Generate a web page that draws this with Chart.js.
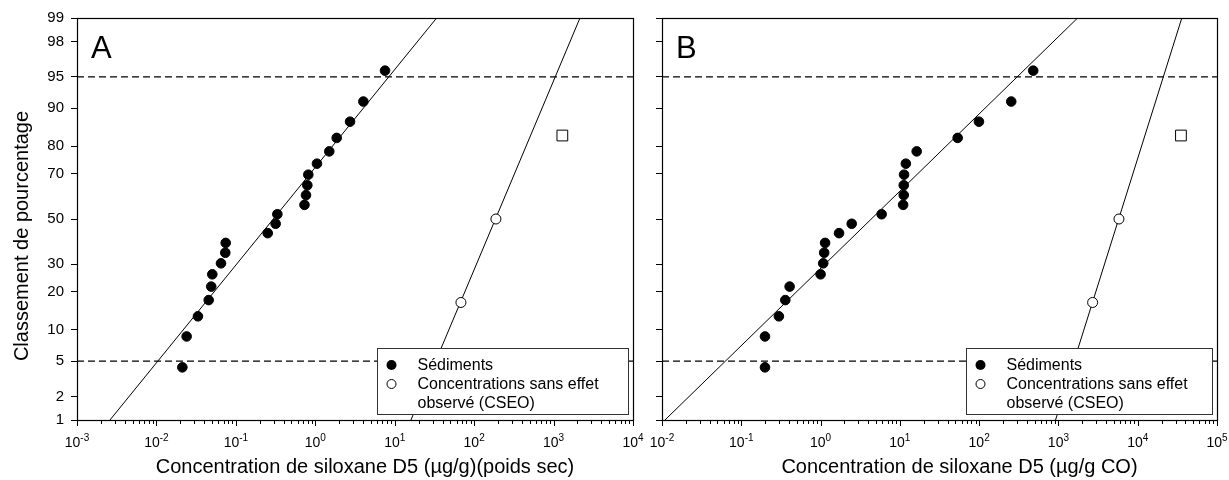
<!DOCTYPE html>
<html>
<head>
<meta charset="utf-8">
<script src="https://cdn.jsdelivr.net/npm/chart.js@4.4.1/dist/chart.umd.min.js"></script>
<style>
  html, body { margin: 0; padding: 0; background: #fff; }
  #wrap { position: relative; width: 1229px; height: 480px; overflow: hidden; }
  #wrap canvas { position: absolute; top: 0; }
</style>
</head>
<body>
<div id="wrap">
  <canvas id="chartA" width="650" height="480" style="left:0"></canvas>
  <canvas id="chartB" width="584" height="480" style="left:645px"></canvas>
</div>
<script>
/* ---------- data ---------- */
const yTickPct = [1, 2, 5, 10, 20, 30, 50, 70, 80, 90, 95, 98, 99];
const refPct   = [5, 95];                 // dashed reference lines

// rank (%) of the 22 sediment samples
const sedPct = [4.3, 8.7, 13.0, 17.4, 21.7, 26.1, 30.4, 34.8, 39.1, 43.5, 47.8,
                52.2, 56.5, 60.9, 65.2, 69.6, 73.9, 78.3, 82.6, 87.0, 91.3, 95.7];
// panel A : µg/g dry weight
const sedA = [0.0212, 0.024, 0.0333, 0.0455, 0.049, 0.0505, 0.065, 0.0736, 0.0745, 0.252, 0.317,
              0.333, 0.731, 0.764, 0.794, 0.817, 1.05, 1.50, 1.86, 2.74, 4.03, 7.55];
// panel B : µg/g OC
const sedB = [0.199, 0.199, 0.298, 0.359, 0.407, 1.00, 1.08, 1.11, 1.14, 1.71, 2.47,
              5.89, 11.0, 11.2, 11.2, 11.3, 11.9, 16.3, 53.6, 99.4, 254, 481];

// NOEC (CSEO) values
const cseoPct = [16.7, 50];
const cseoA   = [68.2, 188];
const cseoB   = [2700, 5800];
const squarePct = [83.3];
const squareA   = [1290];
const squareB   = [35100];

// fitted lines, given at the 1 % and 99 % ranks
const fitPct   = [1, 99];
const sedFitA  = [0.0026, 33.7];
const cseoFitA = [16.0, 2150];
const sedFitB  = [0.0109, 1746];
const cseoFitB = [920, 36000];

const FONT = '"Liberation Sans", Arial, Helvetica, sans-serif';

/* ---------- normal probability scale ---------- */
// inverse normal CDF (Acklam)
function probit(p) {
  const a = [-3.969683028665376e+01, 2.209460984245205e+02, -2.759285104469687e+02, 1.383577518672690e+02, -3.066479806614716e+01, 2.506628277459239e+00];
  const b = [-5.447609879822406e+01, 1.615858368580409e+02, -1.556989798598866e+02, 6.680131188771972e+01, -1.328068155288572e+01];
  const c = [-7.784894002430293e-03, -3.223964580411365e-01, -2.400758277161838e+00, -2.549732539343734e+00, 4.374664141464968e+00, 2.938163982698783e+00];
  const d = [7.784695709041462e-03, 3.224671290700398e-01, 2.445134137142996e+00, 3.754408661907416e+00];
  const pl = 0.02425;
  let q, r;
  if (p < pl) {
    q = Math.sqrt(-2 * Math.log(p));
    return (((((c[0]*q+c[1])*q+c[2])*q+c[3])*q+c[4])*q+c[5]) / ((((d[0]*q+d[1])*q+d[2])*q+d[3])*q+1);
  }
  if (p > 1 - pl) {
    q = Math.sqrt(-2 * Math.log(1 - p));
    return -(((((c[0]*q+c[1])*q+c[2])*q+c[3])*q+c[4])*q+c[5]) / ((((d[0]*q+d[1])*q+d[2])*q+d[3])*q+1);
  }
  q = p - 0.5; r = q * q;
  return (((((a[0]*r+a[1])*r+a[2])*r+a[3])*r+a[4])*r+a[5])*q / (((((b[0]*r+b[1])*r+b[2])*r+b[3])*r+b[4])*r+1);
}

const pts = (xs, pcts) => xs.map((x, i) => ({ x, y: probit(pcts[i] / 100) }));

/* ---------- custom decoration: frame, log ticks, titles, legend ---------- */
function decoPlugin(cfg) {
  return {
    id: 'deco',
    afterDraw(chart) {
      const { ctx, chartArea: a, scales: { x } } = chart;
      ctx.save();
      ctx.strokeStyle = '#000';
      ctx.fillStyle = '#000';

      // legend box (white, covers lines)
      const L = a.right - 5 - cfg.legendW, T = a.bottom - 72, W = cfg.legendW, H = 66;
      ctx.fillStyle = '#fff';
      ctx.fillRect(L, T, W, H);
      ctx.lineWidth = 1;
      ctx.strokeStyle = '#333';
      ctx.strokeRect(L + 0.5, T + 0.5, W, H);
      ctx.strokeStyle = '#000';
      ctx.lineWidth = 1;
      ctx.beginPath(); ctx.arc(L + 14.5, T + 17, 5, 0, Math.PI * 2);
      ctx.fillStyle = '#000'; ctx.fill();
      ctx.beginPath(); ctx.arc(L + 14.5, T + 36, 4.5, 0, Math.PI * 2);
      ctx.fillStyle = '#fff'; ctx.fill(); ctx.stroke();
      ctx.fillStyle = '#000';
      ctx.font = '16px ' + FONT;
      ctx.textAlign = 'left';
      ctx.textBaseline = 'middle';
      ctx.fillText('Sédiments', L + 40.5, T + 18);
      ctx.fillText('Concentrations sans effet', L + 40.5, T + 37);
      ctx.fillText('observé (CSEO)', L + 40.5, T + 56);

      // frame
      ctx.lineWidth = 1.2;
      ctx.strokeRect(a.left + 0.5, a.top + 0.5, a.right - a.left, a.bottom - a.top);

      // log ticks + 10^n labels
      const e0 = Math.round(Math.log10(x.min)), e1 = Math.round(Math.log10(x.max));
      ctx.lineWidth = 1;
      for (let e = e0; e <= e1; e++) {
        for (let m = 1; m <= 9; m++) {
          const v = m * Math.pow(10, e);
          if (v > x.max * 1.0001) break;
          const px = Math.round(x.getPixelForValue(v)) + 0.5;
          const len = m === 1 ? 6 : 4;
          ctx.beginPath(); ctx.moveTo(px, a.bottom); ctx.lineTo(px, a.bottom + len); ctx.stroke();
        }
        const cx = x.getPixelForValue(Math.pow(10, e));
        ctx.textBaseline = 'alphabetic';
        ctx.font = '14px ' + FONT; const wb = ctx.measureText('10').width;
        ctx.font = '10px ' + FONT; const we = ctx.measureText(String(e)).width;
        const left = cx - (wb + we) / 2;
        ctx.font = '14px ' + FONT; ctx.fillText('10', left, a.bottom + 27);
        ctx.font = '10px ' + FONT; ctx.fillText(String(e), left + wb, a.bottom + 21);
      }

      // x title
      ctx.font = '20px ' + FONT;
      ctx.textAlign = 'center';
      ctx.fillText(cfg.xTitle, (a.left + a.right) / 2 + cfg.xTitleShift, a.bottom + 53);

      // y title
      if (cfg.yTitle) {
        ctx.save();
        ctx.translate(28, (a.top + a.bottom) / 2 + 17);
        ctx.rotate(-Math.PI / 2);
        ctx.fillText(cfg.yTitle, 0, 0);
        ctx.restore();
      }

      // panel letter
      ctx.font = '31px ' + FONT;
      ctx.textAlign = 'left';
      ctx.fillText(cfg.letter, a.left + 14, a.top + 40);
      ctx.restore();
    }
  };
}

function makePanel(id, cfg) {
  const zMin = probit(0.01), zMax = probit(0.99);
  const refLine = p => [{ x: cfg.xMin, y: probit(p / 100) }, { x: cfg.xMax, y: probit(p / 100) }];
  const lineDs = (data, dash, w) => ({
    data, showLine: true, borderColor: '#000', borderWidth: w || 1, pointRadius: 0,
    borderDash: dash || [], fill: false
  });

  return new Chart(document.getElementById(id), {
    type: 'scatter',
    data: {
      datasets: [
        { label: 'Sédiments', data: pts(cfg.sed, sedPct), pointRadius: 4.8,
          backgroundColor: '#000', borderColor: '#000', pointBorderWidth: 1 },
        { label: 'Concentrations sans effet observé (CSEO)', data: pts(cfg.cseo, cseoPct), pointRadius: 5,
          backgroundColor: '#fff', borderColor: '#000', pointBorderWidth: 1 },
        { label: 'CSEO', data: pts(cfg.square, squarePct), pointStyle: 'rect', pointRadius: 7.6,
          backgroundColor: '#fff', borderColor: '#000', pointBorderWidth: 1 },
        lineDs(pts(cfg.sedFit, fitPct)),
        lineDs(pts(cfg.cseoFit, fitPct)),
        lineDs(refLine(refPct[0]), [7, 4], 1.3),
        lineDs(refLine(refPct[1]), [7, 4], 1.3),
      ]
    },
    options: {
      responsive: false,
      animation: false,
      devicePixelRatio: 1,
      events: [],
      layout: { padding: cfg.padding },
      plugins: { legend: { display: false }, tooltip: { enabled: false } },
      scales: {
        x: {
          type: 'logarithmic', min: cfg.xMin, max: cfg.xMax,
          afterFit: ax => { ax.height = 60; },
          grid: { display: false }, border: { display: false }, ticks: { display: false }
        },
        y: {
          type: 'linear', min: zMin, max: zMax,
          afterBuildTicks: ax => { ax.ticks = yTickPct.map(p => ({ value: probit(p / 100) })); },
          afterFit: ax => { ax.width = cfg.yWidth; },
          grid: { drawOnChartArea: false, drawTicks: true, tickLength: 6, color: '#000', tickColor: '#000', lineWidth: 1 },
          border: { display: false },
          ticks: {
            autoSkip: false, padding: 7, color: '#000',
            font: { family: FONT, size: 15 },
            callback: (v, i) => cfg.yLabels ? String(yTickPct[i]) : ''
          }
        }
      }
    },
    plugins: [decoPlugin(cfg)]
  });
}

makePanel('chartA', {
  xMin: 1e-3, xMax: 1e4, sed: sedA, cseo: cseoA, square: squareA,
  sedFit: sedFitA, cseoFit: cseoFitA, letter: 'A',
  xTitle: 'Concentration de siloxane D5 (µg/g)(poids sec)', xTitleShift: 10,
  yTitle: 'Classement de pourcentage', yLabels: true, yWidth: 77,
  padding: { left: 0, top: 18, right: 17, bottom: 0 }, legendW: 251
});

makePanel('chartB', {
  xMin: 1e-2, xMax: 1e5, sed: sedB, cseo: cseoB, square: squareB,
  sedFit: sedFitB, cseoFit: cseoFitB, letter: 'B',
  xTitle: 'Concentration de siloxane D5 (µg/g CO)', xTitleShift: 20,
  yTitle: null, yLabels: false, yWidth: 17,
  padding: { left: 0, top: 18, right: 12, bottom: 0 }, legendW: 246
});
</script>
</body>
</html>
